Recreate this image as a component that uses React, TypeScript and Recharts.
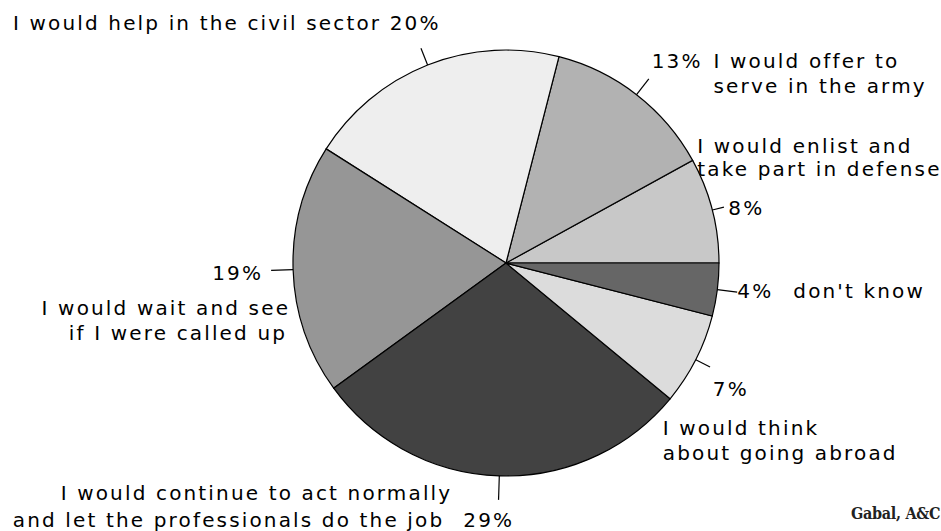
import { PieChart, Pie, Cell } from "recharts";

// order = counter-clockwise from 3 o'clock
const CATEGORIES = [
  "I would enlist and take part in defense",
  "I would offer to serve in the army",
  "I would help in the civil sector",
  "I would wait and see if I were called up",
  "I would continue to act normally and let the professionals do the job",
  "I would think about going abroad",
  "don't know",
];
const VALUES = [8, 13, 20, 19, 29, 7, 4];
const LABEL_LINES = [
  ["I would enlist and", "take part in defense"],
  ["I would offer to", "serve in the army"],
  ["I would help in the civil sector"],
  ["I would wait and see", "if I were called up"],
  ["I would continue to act normally", "and let the professionals do the job"],
  ["I would think", "about going abroad"],
  ["don't know"],
];
const SOURCE = "Gabal, A&C";

const COLORS = ["#c8c8c8", "#b2b2b2", "#eeeeee", "#969696", "#424242", "#dcdcdc", "#666666"];
const FONT = "'DejaVu Sans', Verdana, sans-serif";
const FS = 20;
const LS = 2.15;

type Anchor = "start" | "end" | "middle";
type TextPos = { dx: number; dy: number; anchor: Anchor };
// positions are offsets from where the slice's mid-angle meets the rim
const LAYOUT: { leader: number; pct: TextPos | null; lines: TextPos[] }[] = [
  { leader: 12, pct: { dx: 16, dy: 5, anchor: "start" }, lines: [{ dx: -15, dy: -57, anchor: "start" }, { dx: -15, dy: -34, anchor: "start" }] },
  { leader: 20, pct: { dx: 66, dy: -27, anchor: "end" }, lines: [{ dx: 77, dy: -27, anchor: "start" }, { dx: 77, dy: -2, anchor: "start" }] },
  { leader: 18, pct: null, lines: [{ dx: 13, dy: -35, anchor: "end" }] },
  { leader: 22, pct: { dx: -30, dy: 10, anchor: "end" }, lines: [{ dx: -3, dy: 45, anchor: "end" }, { dx: -6, dy: 70, anchor: "end" }] },
  { leader: 24, pct: { dx: -36, dy: 51, anchor: "start" }, lines: [{ dx: -47, dy: 24, anchor: "end" }, { dx: -55, dy: 51, anchor: "end" }] },
  { leader: 16, pct: { dx: 17, dy: 36, anchor: "start" }, lines: [{ dx: -33, dy: 75, anchor: "start" }, { dx: -33, dy: 100, anchor: "start" }] },
  { leader: 20, pct: { dx: 20, dy: 8, anchor: "start" }, lines: [{ dx: 76, dy: 8, anchor: "start" }] },
];

const data = CATEGORIES.map((name, i) => ({ name, value: VALUES[i] }));
const RAD = Math.PI / 180;

function renderLabel(props: any) {
  const { cx, cy, midAngle, outerRadius, index } = props;
  const lay = LAYOUT[index];
  const cos = Math.cos(-midAngle * RAD);
  const sin = Math.sin(-midAngle * RAD);
  const ex = cx + outerRadius * cos;
  const ey = cy + outerRadius * sin;
  const lx = ex + lay.leader * cos;
  const ly = ey + lay.leader * sin;
  const pct = `${VALUES[index]}%`;
  const lines = LABEL_LINES[index];
  const txt = (s: string, p: TextPos, k: string) => (
    <text
      key={k}
      x={ex + p.dx}
      y={ey + p.dy}
      textAnchor={p.anchor}
      fill="#000"
      fontFamily={FONT}
      fontSize={FS}
      letterSpacing={LS}
    >
      {s}
    </text>
  );
  return (
    <g key={`lbl-${index}`}>
      <line x1={ex} y1={ey} x2={lx} y2={ly} stroke="#000" strokeWidth={1.2} />
      {lines.map((s, i) =>
        txt(lay.pct == null && i === lines.length - 1 ? `${s} ${pct}` : s, lay.lines[i], `l${i}`)
      )}
      {lay.pct && txt(pct, lay.pct, "p")}
    </g>
  );
}

export default function App() {
  return (
    <div style={{ position: "absolute", left: 0, top: 0, width: 941, height: 531, background: "#fff" }}>
      <PieChart width={941} height={531} margin={{ top: 0, right: 0, bottom: 0, left: 0 }}>
        <Pie
          data={data}
          dataKey="value"
          nameKey="name"
          cx={506}
          cy={263}
          outerRadius={213}
          startAngle={0}
          endAngle={360}
          stroke="#000"
          strokeWidth={1.2}
          label={renderLabel}
          labelLine={false}
          isAnimationActive={false}
        >
          {data.map((d, i) => (
            <Cell key={d.name} fill={COLORS[i]} />
          ))}
        </Pie>
      </PieChart>
      <div
        style={{
          position: "absolute",
          left: 851,
          top: 504,
          fontFamily: "'DejaVu Serif Condensed', 'Liberation Serif', serif",
          fontWeight: "bold",
          fontSize: 16,
          letterSpacing: -0.3,
          color: "#222",
          whiteSpace: "nowrap",
        }}
      >
        {SOURCE}
      </div>
    </div>
  );
}
